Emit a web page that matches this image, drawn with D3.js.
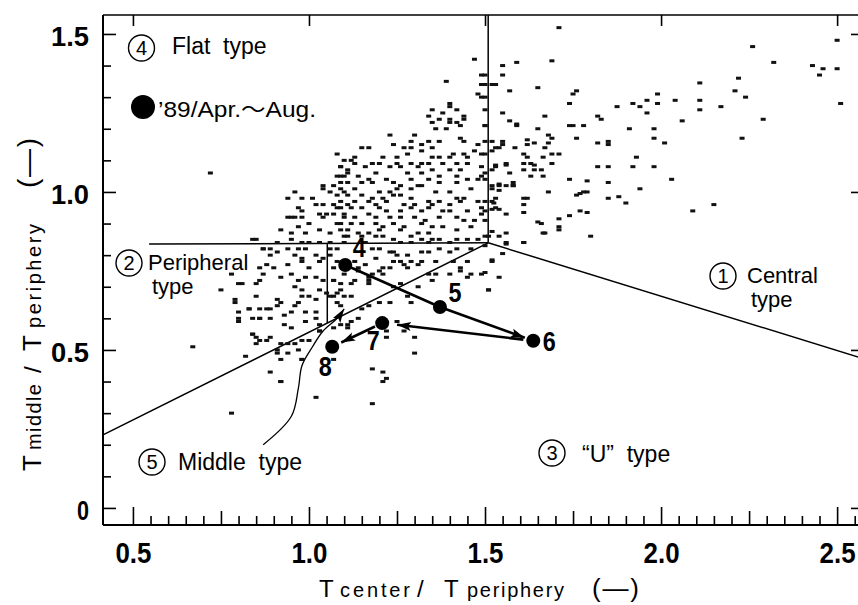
<!DOCTYPE html>
<html>
<head>
<meta charset="utf-8">
<script src="https://cdn.jsdelivr.net/npm/d3@7"></script>
<style>
  body { margin: 0; background: #fff; }
  svg { display: block; }
  text { font-family: "Liberation Sans", Arial, Helvetica, sans-serif; fill: #000; }
  .num { font-family: "Liberation Sans", Arial, sans-serif; font-weight: bold; }
  .pre { white-space: pre; }
</style>
</head>
<body>
<svg id="chart" width="858" height="605"></svg>
<script>
// Daily readings: [Tcenter/Tperiphery, Tmiddle/Tperiphery]
const scatterPoints = [
  [1.23,1.18],[1.30,1.18],[1.36,1.20],[1.39,1.20],[1.43,1.17],[1.24,1.15],[1.29,1.16],[1.32,1.15],[1.34,1.16],[1.37,1.16],
  [1.44,1.16],[1.48,1.15],[1.52,1.16],[1.15,1.14],[1.17,1.14],[1.27,1.14],[1.29,1.14],[1.32,1.13],[1.35,1.14],[1.41,1.12],
  [1.44,1.12],[1.47,1.13],[1.49,1.12],[1.54,1.14],[1.28,1.12],[1.25,1.11],[1.35,1.11],[1.37,1.11],[1.40,1.11],[1.45,1.11],
  [1.12,1.10],[1.13,1.11],[1.21,1.11],[1.18,1.09],[1.25,1.09],[1.29,1.09],[1.32,1.09],[1.34,1.09],[1.38,1.09],[1.42,1.09],
  [1.45,1.09],[1.09,1.08],[1.13,1.09],[1.16,1.08],[1.20,1.09],[1.23,1.08],[1.26,1.08],[1.31,1.08],[1.35,1.07],[1.40,1.07],
  [1.43,1.07],[1.49,1.08],[1.53,1.08],[1.11,1.06],[1.19,1.06],[1.28,1.06],[1.32,1.06],[1.37,1.05],[1.42,1.05],[1.45,1.04],
  [1.48,1.04],[1.49,1.05],[1.09,1.05],[1.14,1.05],[1.17,1.04],[1.22,1.04],[1.29,1.04],[1.34,1.04],[1.37,1.03],[1.11,1.03],
  [1.15,1.03],[1.18,1.03],[1.24,1.03],[1.26,1.02],[1.31,1.02],[1.32,1.02],[1.42,1.03],[1.52,1.02],[1.09,1.01],[1.13,1.01],
  [1.20,1.00],[1.23,1.00],[1.25,1.01],[1.29,1.01],[1.36,1.00],[1.40,1.00],[1.46,1.01],[1.11,0.99],[1.15,0.99],[1.18,0.98],
  [1.21,0.98],[1.24,0.99],[1.26,0.99],[1.29,0.98],[1.37,0.97],[1.42,0.98],[1.44,0.98],[1.48,0.97],[1.52,0.97],[1.09,0.97],
  [1.13,0.97],[1.17,0.97],[1.19,0.96],[1.22,0.97],[1.27,0.96],[1.30,0.96],[1.34,0.97],[1.35,0.96],[1.40,0.96],[1.43,0.97],
  [1.09,0.95],[1.12,0.95],[1.15,0.95],[1.20,0.95],[1.22,0.94],[1.26,0.94],[1.29,0.95],[1.32,0.94],[1.34,0.95],[1.38,0.94],
  [1.40,0.94],[1.45,0.94],[1.49,0.95],[1.53,0.95],[1.10,0.92],[1.13,0.92],[1.17,0.93],[1.19,0.92],[1.23,0.92],[1.26,0.92],
  [1.30,0.92],[1.33,0.91],[1.37,0.92],[1.42,0.92],[1.44,0.91],[1.47,0.91],[1.49,0.93],[1.09,0.90],[1.12,0.90],[1.15,0.90],
  [1.19,0.90],[1.21,0.89],[1.24,0.90],[1.27,0.89],[1.32,0.90],[1.35,0.89],[1.38,0.89],[1.42,0.88],[1.46,0.89],[1.11,0.88],
  [1.14,0.87],[1.17,0.87],[1.20,0.88],[1.26,0.88],[1.31,0.87],[1.34,0.87],[1.37,0.85],[1.42,0.85],[1.45,0.85],[1.51,0.86],
  [1.10,0.86],[1.15,0.86],[1.19,0.86],[1.21,0.86],[1.24,0.85],[1.29,0.86],[1.32,0.85],[1.35,0.85],[1.48,0.85],[1.16,0.84],
  [1.26,0.84],[1.29,0.84],[1.34,0.84],[1.40,0.84],
  [1.47,1.42],[1.39,1.35],[1.50,1.37],[1.49,1.34],[1.52,1.34],[1.53,1.34],[1.48,1.31],[1.50,1.30],[1.40,1.28],[1.40,1.27],
  [1.42,1.26],[1.35,1.26],[1.38,1.25],[1.34,1.24],[1.37,1.23],[1.35,1.22],[1.40,1.23],[1.40,1.22],[1.44,1.24],[1.44,1.23],
  [1.50,1.26],[1.42,1.22],[1.43,1.21],[1.50,1.21],
  [0.72,1.06],[1.08,1.12],[1.10,1.10],[1.09,1.08],[1.11,1.07],[1.08,1.05],[1.10,1.05],[1.04,1.02],[1.07,1.02],[1.09,1.03],
  [0.96,1.00],[1.01,0.98],[1.04,1.01],[1.06,1.00],[1.08,0.99],[1.10,1.00],[0.94,0.98],[0.98,0.98],[1.02,0.96],[0.97,0.95],
  [0.98,0.94],[1.04,0.96],[1.07,0.96],[1.08,0.95],[1.11,0.96],[0.94,0.92],[0.96,0.92],[1.03,0.93],[1.05,0.93],[1.07,0.93],
  [1.10,0.93],
  [0.95,0.92],[0.98,0.92],[1.00,0.90],[1.04,0.92],[1.08,0.90],[0.92,0.88],[0.95,0.87],[0.97,0.89],[0.99,0.87],[1.03,0.88],
  [1.06,0.87],[1.09,0.88],[1.11,0.86],[0.85,0.85],[0.91,0.84],[0.95,0.85],[0.98,0.84],[1.00,0.84],[1.03,0.84],[1.06,0.84],
  [1.10,0.84],[0.97,0.82],[0.99,0.82],[1.06,0.82],[1.08,0.82],[0.87,0.82],[0.89,0.82],[0.91,0.81],[0.89,0.80],[0.94,0.82],
  [0.96,0.80],[0.98,0.79],[1.02,0.80],[1.04,0.79],[1.06,0.80],[0.86,0.76],[0.88,0.77],[0.90,0.76],[0.94,0.77],[0.98,0.78],
  [1.00,0.76],[1.03,0.78],[1.08,0.78],[0.78,0.74],[0.87,0.74],[0.92,0.73],[0.95,0.74],[0.97,0.72],[0.99,0.73],[1.02,0.73],
  [1.04,0.72],[1.07,0.72],[1.10,0.74],[0.81,0.71],[0.86,0.72],[0.75,0.69],[0.96,0.70],[0.98,0.69],[1.03,0.69],[1.05,0.68],
  [1.07,0.67],[0.98,0.67],[1.00,0.67],[0.91,0.66],[0.79,0.65],[0.92,0.65],[0.97,0.65],[1.02,0.66],[1.08,0.65],[0.83,0.63],
  [0.86,0.63],[0.89,0.63],[0.91,0.64],[0.96,0.64],[0.99,0.62],[1.02,0.62],[0.80,0.62],[0.93,0.61],[0.95,0.62],[0.84,0.60],
  [0.86,0.60],[0.89,0.60],[1.02,0.60],[0.80,0.59],[0.99,0.59],[0.93,0.58],[0.95,0.57],[1.03,0.58],[0.84,0.55],[0.85,0.54],
  [0.89,0.54],[0.86,0.53],[0.94,0.52],[0.96,0.52],[0.98,0.53],[1.00,0.53],[1.03,0.56],[0.91,0.50],[0.94,0.49],[0.82,0.48],
  [0.92,0.47],[0.98,0.47],[0.89,0.43],[0.92,0.40],[1.02,0.35],[0.78,0.30],[1.07,0.47],[1.03,0.56],[1.07,0.76],[1.07,0.72],
  [1.09,0.71],[1.08,0.68],[1.10,0.67],[1.06,0.67],[1.11,0.58],[1.07,0.57],
  [1.18,0.82],[1.20,0.82],[1.23,0.81],[1.24,0.81],[1.25,0.80],[1.28,0.80],[1.32,0.81],[1.34,0.81],[1.37,0.82],[1.40,0.81],
  [1.42,0.82],[1.46,0.82],[1.19,0.79],[1.24,0.78],[1.26,0.78],[1.27,0.77],[1.29,0.78],[1.31,0.77],[1.32,0.78],[1.36,0.78],
  [1.16,0.77],[1.21,0.76],[1.23,0.76],[1.28,0.76],[1.13,0.78],[1.14,0.76],[1.41,0.78],[1.45,0.78],[1.52,0.78],[1.14,0.75],
  [1.18,0.74],[1.20,0.75],[1.21,0.74],[1.17,0.73],[1.17,0.72],[1.17,0.71],[1.13,0.72],[1.12,0.71],[1.34,0.74],[1.36,0.74],
  [1.40,0.74],[1.43,0.75],[1.49,0.74],[1.26,0.71],[1.31,0.70],[1.35,0.72],[1.24,0.70],[1.09,0.69],[1.45,0.73],[1.51,0.69],
  [1.28,0.67],[1.29,0.65],[1.12,0.67],[1.17,0.64],[1.20,0.65],[1.23,0.65],[1.09,0.64],[1.15,0.63],[1.14,0.60],[1.12,0.59],
  [1.11,0.57],[1.09,0.58],[1.25,0.59],[1.27,0.56],[1.22,0.56],[1.22,0.54],[1.30,0.54],[1.30,0.49],[1.18,0.44],[1.21,0.43],
  [1.22,0.41],[1.21,0.40],[1.18,0.33],
  [0.84,0.85],[0.87,0.82],[0.80,0.71],[0.85,0.71],[0.79,0.66],[0.85,0.67],[0.83,0.63],[0.88,0.63],[0.86,0.60],[0.80,0.60],
  [0.84,0.55],[0.85,0.52],[0.88,0.53],[0.67,0.51],[0.92,0.52],[0.97,0.50],[0.91,0.49],[0.98,0.47],[0.92,0.40],
  [1.54,0.73],[1.53,0.98],[1.58,1.02],[1.54,1.02],[1.62,0.98],[1.66,0.90],[1.56,0.84],[1.61,0.84],[1.71,0.89],[1.67,0.87],
  [1.43,0.76],[1.46,0.74],
  [1.71,1.52],[1.69,1.415],[1.59,1.41],[1.55,1.40],[1.55,1.37],[2.26,1.46],[2.32,1.41],[2.50,1.48],[2.43,1.40],[2.46,1.39],
  [2.45,1.37],[2.50,1.39],[2.51,1.28],[2.22,1.36],[2.21,1.32],[2.24,1.30],[2.29,1.23],[2.23,1.17],[2.11,1.345],[2.11,1.29],
  [2.11,1.26],[2.17,1.27],[2.06,1.225],[2.04,1.29],[1.99,1.31],[1.96,1.29],[1.99,1.28],[1.96,1.25],[1.92,1.28],[1.94,1.27],
  [1.875,1.27],[1.91,1.20],[1.98,1.20],[1.98,1.17],[2.01,1.155],[1.93,1.11],[1.92,1.08],[1.98,1.08],[2.03,1.04],[1.94,1.01],
  [2.09,0.94],[2.15,0.96],[1.82,1.24],[1.83,1.23],[1.78,1.21],[1.74,1.21],[1.75,1.21],[1.76,1.17],[1.74,1.28],[1.76,1.32],
  [1.75,1.31],[1.65,1.33],[1.67,1.24],[1.65,1.20],[1.68,1.18],[1.69,1.17],[1.82,1.155],[1.85,1.16],[1.85,1.15],[1.71,1.12],
  [1.69,1.12],[1.68,1.155],[1.67,1.14],[1.64,1.155],[1.62,1.165],[1.62,1.15],[1.585,1.14],[1.59,1.21],[1.59,1.215],[1.57,1.225],
  [1.55,1.25],[1.57,1.32],[1.55,1.16],[1.55,1.15],[1.53,1.14],[1.52,1.13],[1.61,1.12],[1.62,1.11],[1.665,1.11],[1.69,1.09],
  [1.61,1.09],[1.63,1.09],[1.64,1.085],[1.64,1.07],[1.61,1.07],[1.66,1.07],[1.665,1.05],[1.63,1.05],[1.56,1.085],[1.56,1.09],
  [1.53,1.085],[1.52,1.07],[1.57,1.06],[1.58,1.03],[1.58,1.02],[1.54,1.025],[1.54,1.005],[1.52,1.01],[1.56,1.02],[1.525,0.965],
  [1.54,0.945],[1.52,0.945],[1.56,0.93],[1.61,0.98],[1.61,0.96],[1.61,0.935],[1.65,0.905],[1.68,1.00],[1.665,0.87],[1.71,0.88],
  [1.71,0.915],[1.74,1.04],[1.76,0.99],[1.77,0.995],[1.78,1.00],[1.79,1.00],[1.79,1.035],[1.77,0.94],[1.79,0.935],[1.74,0.925],
  [1.80,0.86],[1.82,1.08],[1.85,1.08],[1.85,1.03],[1.85,0.98],[1.88,0.985],[1.90,0.965],[1.52,0.875],[1.56,0.87],[1.61,0.84],
  [1.54,0.86],[1.56,0.835],[1.52,0.785],[1.55,0.805],[1.50,0.745],[1.51,0.69],[1.50,0.83],
  [1.49,1.37],[1.50,1.34],[1.49,1.30],[1.50,1.21],[1.50,1.16],[1.50,1.12],[1.50,1.06],[1.50,1.04],[1.50,0.97],[1.50,0.94],
  [1.50,0.91],[1.50,0.86]
];

// Monthly means for '89, April to August
const monthLabels = ["4", "5", "6", "7", "8"];
const monthCenter = [1.103, 1.372, 1.637, 1.208, 1.066];
const monthMiddle = [0.769, 0.636, 0.529, 0.585, 0.510];

// Boundaries between the five distribution types
const boundaryLines = [
  [[1.509, 1.56], [1.509, 0.839]],
  [[0.546, 0.835], [1.509, 0.839]],
  [[1.509, 0.839], [2.565, 0.476]],
  [[0.415, 0.231], [1.509, 0.839]],
  [[1.052, 0.835], [1.052, 0.585]]
];
// Leader curve from the "Middle type" label to its region
const leaderCurve = [[0.87, 0.20], [0.95, 0.29], [0.97, 0.38], [0.98, 0.45], [1.01, 0.51], [1.04, 0.56], [1.08, 0.60], [1.10, 0.63]];

const xTickLabels = ["0.5", "1.0", "1.5", "2.0", "2.5"];
const yTickLabels = ["0", "0.5", "1.0", "1.5"];

const svg = d3.select("#chart");
const L = 103, R = 860, T = 15, B = 525;
const x = d3.scaleLinear().domain([0.415, 2.565]).range([L, R]);
const y = d3.scaleLinear().domain([-0.054, 1.56]).range([B, T]);

// arrowhead
svg.append("defs").append("marker")
  .attr("id", "head").attr("markerUnits", "userSpaceOnUse")
  .attr("markerWidth", 16).attr("markerHeight", 10)
  .attr("refX", 14).attr("refY", 4.5).attr("orient", "auto")
  .append("path").attr("d", "M0,0 L14,4.5 L0,9 L3,4.5 Z").attr("fill", "#000");

// frame
const frame = svg.append("g").attr("stroke", "#000").attr("fill", "none");
frame.append("line").attr("x1", L).attr("x2", L).attr("y1", T).attr("y2", B).attr("stroke-width", 2);
frame.append("line").attr("x1", L).attr("x2", R).attr("y1", B).attr("y2", B).attr("stroke-width", 2);
frame.append("line").attr("x1", L).attr("x2", R).attr("y1", T).attr("y2", T).attr("stroke-width", 1.6);
frame.append("line").attr("x1", R).attr("x2", R).attr("y1", T).attr("y2", B).attr("stroke-width", 1.6);

// x ticks
const xMajor = xTickLabels.map(Number);
const xMinor = d3.range(10, 52).map(i => i / 20).filter(v => !xMajor.includes(v) && (v * 4) % 1 !== 0);
const xMid = d3.range(3, 11).map(i => i / 4 - 0.25).filter(v => v > 0.5 && !xMajor.includes(v));

function tickAxis(axis, values, size, transform) {
  const g = svg.append("g").attr("transform", transform)
    .call(axis.tickValues(values).tickSize(size).tickFormat(""));
  g.select(".domain").remove();
  g.selectAll("line").attr("stroke", "#000").attr("stroke-width", 1.6);
  return g;
}
tickAxis(d3.axisBottom(x), xMinor, -9, `translate(0,${B})`);
tickAxis(d3.axisBottom(x), xMid, -14, `translate(0,${B})`);
tickAxis(d3.axisBottom(x), xMajor, -18, `translate(0,${B})`);
tickAxis(d3.axisTop(x), xMajor, -11, `translate(0,${T})`);

const xl = svg.append("g").attr("transform", `translate(0,${B})`)
  .call(d3.axisBottom(x).tickValues(xMajor).tickSize(0).tickPadding(0).tickFormat((d, i) => xTickLabels[i]));
xl.select(".domain").remove();
xl.selectAll("text").attr("class", "num").attr("font-size", 29).attr("dy", null).attr("y", 38)
  .attr("textLength", 36).attr("lengthAdjust", "spacingAndGlyphs").attr("fill", "#000");

// y ticks
const yMajor = yTickLabels.map(Number);
const yMinor = d3.range(1, 15).map(i => i / 10).filter(v => Math.abs(v - 0.5) > 1e-9 && Math.abs(v - 1.0) > 1e-9);
tickAxis(d3.axisLeft(y), yMinor, -8, `translate(${L},0)`);
tickAxis(d3.axisLeft(y), yMajor, -13, `translate(${L},0)`);
tickAxis(d3.axisRight(y), yMajor, -9, `translate(${R},0)`);

const yl = svg.append("g").attr("transform", `translate(${L},0)`)
  .call(d3.axisLeft(y).tickValues(yMajor).tickSize(0).tickPadding(14).tickFormat((d, i) => yTickLabels[i]));
yl.select(".domain").remove();
yl.selectAll("text").attr("class", "num").attr("font-size", 28).attr("dy", "0.42em")
  .attr("textLength", (d, i) => yTickLabels[i].length > 1 ? 38 : 12)
  .attr("lengthAdjust", "spacingAndGlyphs").attr("fill", "#000");

// type boundaries
const lineGen = d3.line().x(d => x(d[0])).y(d => y(d[1]));
svg.append("g").selectAll("path").data(boundaryLines).join("path")
  .attr("d", lineGen).attr("fill", "none").attr("stroke", "#000").attr("stroke-width", 1.5);

// leader curve
svg.append("path").datum(leaderCurve)
  .attr("d", d3.line().x(d => x(d[0])).y(d => y(d[1])).curve(d3.curveCatmullRom))
  .attr("fill", "none").attr("stroke", "#000").attr("stroke-width", 1.3)
  .attr("marker-end", "url(#head)");

// daily points
svg.append("g").selectAll("rect").data(scatterPoints).join("rect")
  .attr("x", d => x(d[0]) - 2.5).attr("y", d => y(d[1]) - 1.5)
  .attr("width", 5).attr("height", 3).attr("fill", "#111");

// monthly trajectory
const months = monthLabels.map((m, i) => ({ m, px: x(monthCenter[i]), py: y(monthMiddle[i]) }));
function seg(a, b, startGap, endGap, head) {
  const dx = b.px - a.px, dy = b.py - a.py, len = Math.hypot(dx, dy);
  const ux = dx / len, uy = dy / len;
  const p = svg.append("line")
    .attr("x1", a.px + ux * startGap).attr("y1", a.py + uy * startGap)
    .attr("x2", b.px - ux * endGap).attr("y2", b.py - uy * endGap)
    .attr("stroke", "#000").attr("stroke-width", 2.6);
  if (head) p.attr("marker-end", "url(#head)");
}
seg(months[0], months[1], 0, 0, false);
seg(months[1], months[2], 0, 9, true);
seg(months[2], months[3], 10, 15, true);
seg(months[3], months[4], 8, 10, true);

svg.append("g").selectAll("circle").data(months).join("circle")
  .attr("cx", d => d.px).attr("cy", d => d.py).attr("r", 7).attr("fill", "#000");

const labelOffset = { "4": [14, -8], "5": [15, -5], "6": [16, 10], "7": [-9, 27], "8": [-7, 29] };
svg.append("g").selectAll("text").data(months).join("text")
  .attr("class", "num").attr("font-size", 27).attr("text-anchor", "middle")
  .attr("textLength", 13).attr("lengthAdjust", "spacingAndGlyphs")
  .attr("x", d => d.px + labelOffset[d.m][0]).attr("y", d => d.py + labelOffset[d.m][1])
  .text(d => d.m);

// region labels with circled numbers
function circled(cx, cy, digit) {
  svg.append("circle").attr("cx", cx).attr("cy", cy).attr("r", 13)
    .attr("fill", "#fff").attr("stroke", "#000").attr("stroke-width", 1.4);
  svg.append("text").attr("x", cx).attr("y", cy + 7).attr("text-anchor", "middle")
    .attr("font-size", 20).text(digit);
}
function label(tx, ty, str, size) {
  svg.append("text").attr("class", "pre").attr("x", tx).attr("y", ty)
    .attr("font-size", size || 23).text(str);
}
circled(141.5, 48, "4"); label(172, 54, "Flat  type");
circled(129, 263, "2"); label(148, 270, "Peripheral", 22); label(152, 294, "type", 22);
circled(723, 276, "1"); label(747, 283, "Central", 22); label(751, 307, "type", 22);
circled(552, 453, "3"); label(582, 462, "“U”  type");
circled(152, 462, "5"); label(178, 470, "Middle  type");

// legend
svg.append("circle").attr("cx", 143).attr("cy", 107).attr("r", 12).attr("fill", "#000");
const lg = svg.append("text").attr("x", 158).attr("y", 117).attr("font-size", 22)
  .attr("textLength", 158).attr("lengthAdjust", "spacingAndGlyphs");
lg.append("tspan").text("’89/Apr.");
lg.append("tspan").attr("font-family", "'Noto Sans CJK JP', sans-serif").text("～");
lg.append("tspan").text("Aug.");

// x axis title
const xt = svg.append("g");
xt.append("text").attr("x", 319).attr("y", 597).attr("font-size", 24).text("T");
xt.append("text").attr("x", 340).attr("y", 597).attr("font-size", 20).attr("textLength", 70).attr("lengthAdjust", "spacing").text("center");
xt.append("text").attr("x", 417).attr("y", 597).attr("font-size", 24).text("/");
xt.append("text").attr("x", 444).attr("y", 597).attr("font-size", 24).text("T");
xt.append("text").attr("x", 467).attr("y", 597).attr("font-size", 20).attr("textLength", 97).attr("lengthAdjust", "spacing").text("periphery");
xt.append("text").attr("x", 592).attr("y", 597).attr("font-size", 26).attr("textLength", 47).attr("lengthAdjust", "spacing").text("(—)");

// y axis title
const yt = svg.append("g").attr("transform", "translate(41,0) rotate(-90)");
yt.append("text").attr("x", -471).attr("y", 0).attr("font-size", 26).text("T");
yt.append("text").attr("x", -450).attr("y", 0).attr("font-size", 20).attr("textLength", 66).attr("lengthAdjust", "spacing").text("middle");
yt.append("text").attr("x", -373).attr("y", 0).attr("font-size", 24).text("/");
yt.append("text").attr("x", -351).attr("y", 0).attr("font-size", 26).text("T");
yt.append("text").attr("x", -328).attr("y", 0).attr("font-size", 20).attr("textLength", 104).attr("lengthAdjust", "spacing").text("periphery");
yt.append("text").attr("x", -188).attr("y", -4).attr("font-size", 28).attr("textLength", 50).attr("lengthAdjust", "spacing").text("(—)");
</script>
</body>
</html>
